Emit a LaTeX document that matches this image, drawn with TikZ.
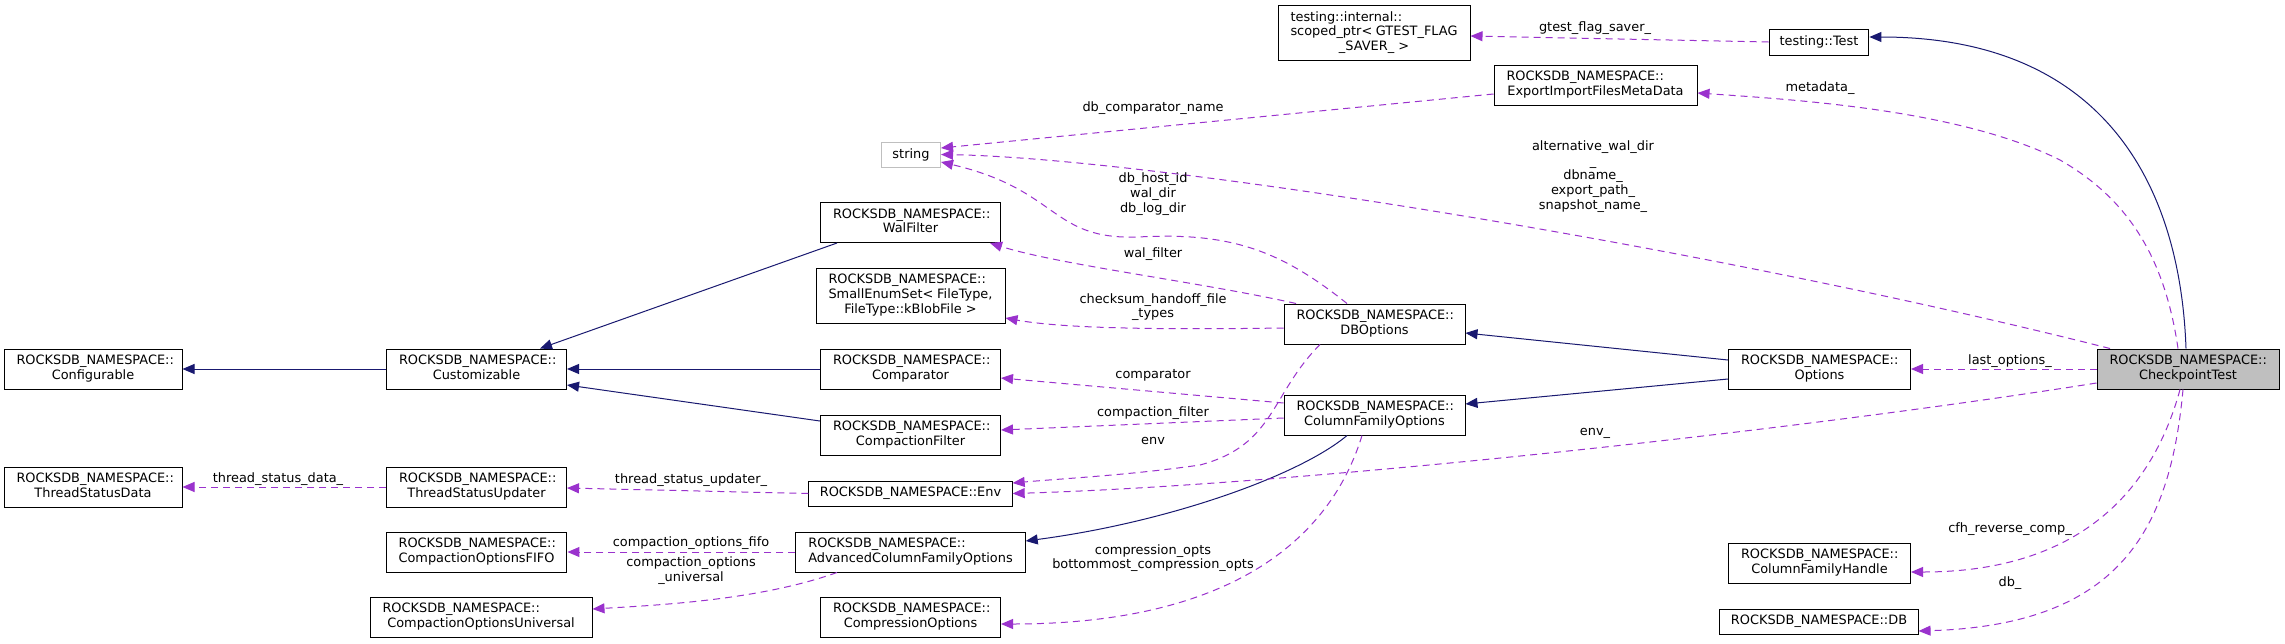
\documentclass[tikz,border=0pt]{standalone}
\usepackage{fontspec}
\setmainfont{DejaVu Sans}
\usetikzlibrary{arrows.meta,calc}
\newcommand{\dxfont}{\fontsize{12.9}{14.7}\selectfont}
\newcommand{\dxn}[3]{\begin{tabular}{@{}p{#1pt}@{}}#2\\\multicolumn{1}{@{}c@{}}{#3}\end{tabular}}
\definecolor{inhc}{HTML}{191970}
\definecolor{usec}{HTML}{9A32CD}
\definecolor{gryc}{HTML}{BFBFBF}
\begin{document}
\begin{tikzpicture}[x=1pt,y=-1pt,
  cls/.style={draw=black,fill=white,line width=1pt,inner xsep=12.5pt,inner ysep=0pt,font=\dxfont,minimum height=40pt},
  one/.style={cls,inner xsep=11pt,minimum height=25pt},
  three/.style={cls,minimum height=55pt},
  inhe/.style={draw=inhc,line width=1pt,-{Triangle[length=12pt,width=10pt]}},
  usee/.style={draw=usec,line width=1pt,dash pattern=on 7pt off 5pt,-{Triangle[length=12pt,width=10pt]}},
  lbl/.style={font=\dxfont,inner sep=0pt,align=center}]
\fill[white] (0,0) rectangle (2285,643);
\useasboundingbox (0,0) rectangle (2285,643);
% nodes
\node[cls] (conf) at (93,369) {\dxn{153}{ROCKSDB\_NAMESPACE::}{Configurable}};
\node[cls] (cust) at (476.5,369) {\dxn{155}{ROCKSDB\_NAMESPACE::}{Customizable}};
\node[cls] (tsd) at (93,487) {\dxn{153}{ROCKSDB\_NAMESPACE::}{ThreadStatusData}};
\node[cls] (tsu) at (476.5,487) {\dxn{155}{ROCKSDB\_NAMESPACE::}{ThreadStatusUpdater}};
\node[cls] (fifo) at (476.5,552) {\dxn{155}{ROCKSDB\_NAMESPACE::}{CompactionOptionsFIFO}};
\node[cls] (univ) at (481,617) {\dxn{197}{ROCKSDB\_NAMESPACE::}{CompactionOptionsUniversal}};
\node[one,draw=gryc] (str) at (911,154.5) {string};
\node[cls] (walf) at (910.5,222.5) {\dxn{155}{ROCKSDB\_NAMESPACE::}{WalFilter}};
\node[three] (sme) at (910.5,295.5) {\dxn{164}{ROCKSDB\_NAMESPACE::\\SmallEnumSet<~FileType,}{FileType::kBlobFile >}};
\node[cls] (comp) at (910.5,369) {\dxn{155}{ROCKSDB\_NAMESPACE::}{Comparator}};
\node[cls] (cfilt) at (910.5,435) {\dxn{155}{ROCKSDB\_NAMESPACE::}{CompactionFilter}};
\node[one] (env) at (910.5,493.5) {ROCKSDB\_NAMESPACE::Env};
\node[cls] (acfo) at (910.5,552) {\dxn{204}{ROCKSDB\_NAMESPACE::}{AdvancedColumnFamilyOptions}};
\node[cls] (cmpo) at (910.5,617) {\dxn{155}{ROCKSDB\_NAMESPACE::}{CompressionOptions}};
\node[three] (sptr) at (1374,33) {\dxn{167}{testing::internal::\\scoped\_ptr<~GTEST\_FLAG}{\_SAVER\_ >}};
\node[cls] (eifm) at (1595.5,85) {\dxn{178}{ROCKSDB\_NAMESPACE::}{ExportImportFilesMetaData}};
\node[cls] (dbo) at (1374.5,324) {\dxn{156}{ROCKSDB\_NAMESPACE::}{DBOptions}};
\node[cls] (cfo) at (1374.5,415) {\dxn{156}{ROCKSDB\_NAMESPACE::}{ColumnFamilyOptions}};
\node[one,inner xsep=10.5pt,minimum height=26pt] (tt) at (1819,42) {testing::Test};
\node[cls] (opt) at (1819.5,369) {\dxn{157}{ROCKSDB\_NAMESPACE::}{Options}};
\node[cls] (cfh) at (1819.5,563) {\dxn{157}{ROCKSDB\_NAMESPACE::}{ColumnFamilyHandle}};
\node[one] (db) at (1819,621.5) {ROCKSDB\_NAMESPACE::DB};
\node[cls,fill=gryc] (cpt) at (2188,369) {\dxn{157}{ROCKSDB\_NAMESPACE::}{CheckpointTest}};
% inheritance edges
\draw[inhe] (cust.west) -- (conf.east);
\draw[inhe] ([xshift=-73.5pt]walf.south) -- ([xshift=63.5pt]cust.north);
\draw[inhe] (comp.west) -- (cust.east);
\draw[inhe] ([yshift=14pt]cfilt.west) -- ([yshift=-16pt]cust.east);
\draw[inhe] ([yshift=9pt]opt.west) -- ([yshift=-9pt]dbo.east);
\draw[inhe] ([yshift=-10pt]opt.west) -- ([yshift=11pt]cfo.east);
\draw[inhe] ([xshift=-27.5pt]cfo.south) .. controls (1300,475) and (1170,522) .. ([yshift=11pt]acfo.east);
\draw[inhe] ([xshift=-2pt]cpt.north) .. controls (2180,180) and (2100,37) .. ([yshift=5pt]tt.east);
% usage edges
\draw[usee] (tt.west) -- ([yshift=-3pt]sptr.east);
\node[lbl] (lgt) at (1595,28) {gtest\_flag\_saver\_};
\draw[usee] ([xshift=-10pt]cpt.north) .. controls (2165,260) and (2130,200) .. (2060,160) .. controls (1960,110) and (1800,100) .. ([yshift=-8pt]eifm.east);
\node[lbl] (lmd) at (1820,88) {metadata\_};
\draw[usee] ([yshift=-9pt]eifm.west) -- ([yshift=6.5pt]str.east);
\node[lbl] (ldcn) at (1153,108) {db\_comparator\_name};
\draw[usee] ([xshift=-78pt]cpt.north) .. controls (1700,245) and (1150,158) .. (str.east);
\node[lbl] (lalt) at (1593,176.4) {alternative\_wal\_dir\\\_\\dbname\_\\export\_path\_\\snapshot\_name\_};
\draw[usee] ([xshift=-27.5pt]dbo.north) .. controls (1280,250) and (1230,232) .. (1138,237) .. controls (1050,240) and (1060,190) .. ([yshift=-7.5pt]str.east);
\node[lbl] (lhost) at (1153,194) {db\_host\_id\\wal\_dir\\db\_log\_dir};
\draw[usee] ([xshift=-78.5pt]dbo.north) .. controls (1200,282) and (1060,265) .. ([xshift=79.5pt]walf.south);
\node[lbl] (lwal) at (1153,254) {wal\_filter};
\draw[usee] ([yshift=-4pt]dbo.west) .. controls (1150,330) and (1060,328) .. ([yshift=-22.5pt]sme.east);
\node[lbl] (lchk) at (1153,307) {checksum\_handoff\_file\\\_types};
\draw[usee] ([xshift=-54.5pt]dbo.south) .. controls (1270,395) and (1275,445) .. (1200,465) .. controls (1130,475) and (1070,478) .. ([yshift=10.5pt]env.east);
\node[lbl] (lenv) at (1153,441) {env};
\draw[usee] ([yshift=-14pt]cpt.west) .. controls (1800,430) and (1300,485) .. (env.east);
\node[lbl] (lenv2) at (1595,433) {env\_};
\draw[usee] (env.west) -- ([yshift=-1pt]tsu.east);
\node[lbl] (ltsu) at (691,480) {thread\_status\_updater\_};
\draw[usee] (tsu.west) -- (tsd.east);
\node[lbl] (ltsd) at (278,479) {thread\_status\_data\_};
\draw[usee] ([yshift=12pt]cfo.west) -- ([yshift=-9pt]comp.east);
\node[lbl] (lcmp) at (1153,375) {comparator};
\draw[usee] ([yshift=-3pt]cfo.west) -- ([yshift=5pt]cfilt.east);
\node[lbl] (lcf) at (1153,413) {compaction\_filter};
\draw[usee] (acfo.west) -- (fifo.east);
\node[lbl] (lfifo) at (691,543) {compaction\_options\_fifo};
\draw[usee] ([xshift=-73.5pt]acfo.south) .. controls (760,600) and (660,605) .. ([yshift=8pt]univ.east);
\node[lbl] (luni) at (691,570.5) {compaction\_options\\\_universal};
\draw[usee] ([xshift=-12.5pt]cfo.south) .. controls (1330,540) and (1230,624) .. ([yshift=-7pt]cmpo.east);
\node[lbl] (lco) at (1153,558) {compression\_opts\\bottommost\_compression\_opts};
\draw[usee] (cpt.west) -- (opt.east);
\node[lbl] (llo) at (2010,361) {last\_options\_};
\draw[usee] ([xshift=-8pt]cpt.south) .. controls (2150,500) and (2070,572) .. ([yshift=-9pt]cfh.east);
\node[lbl] (lcfh) at (2010,529) {cfh\_reverse\_comp\_};
\draw[usee] ([xshift=-5pt]cpt.south) .. controls (2170,530) and (2120,625) .. ([yshift=-9.5pt]db.east);
\node[lbl] (ldb) at (2010,583) {db\_};
\end{tikzpicture}
\end{document}
